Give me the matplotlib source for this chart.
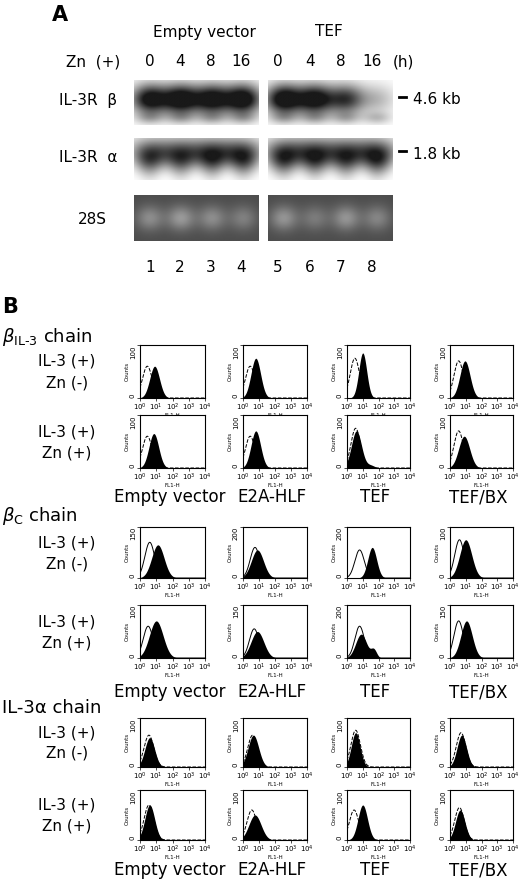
import numpy as np
import matplotlib
matplotlib.use("Agg")
import matplotlib.pyplot as plt

W, H = 520, 880

# ---- panel A data ----
lane_numbers = ["1", "2", "3", "4", "5", "6", "7", "8"]
hours = ["0", "4", "8", "16", "0", "4", "8", "16"]
beta_intensity = [0.85, 0.9, 0.85, 0.92, 0.92, 0.85, 0.65, 0.22]
alpha_intensity = [0.75, 0.75, 0.82, 0.82, 0.82, 0.82, 0.78, 0.85]
rrna_intensity = [0.25, 0.3, 0.25, 0.2, 0.28, 0.18, 0.28, 0.22]

# ---- panel B data ----
columns = ["Empty vector", "E2A-HLF", "TEF", "TEF/BX"]
sections = ["beta_il3", "beta_c", "il3a"]
ymax = {
    "beta_il3": [[100, 100, 100, 100], [100, 100, 100, 100]],
    "beta_c": [[150, 200, 200, 100], [100, 150, 200, 150]],
    "il3a": [[100, 100, 100, 100], [100, 100, 100, 100]],
}
# filled peak: (log centre, height fraction, width); optional shoulder
filled = {
    "beta_il3": [[(0.9, 0.6, 0.3), (0.8, 0.75, 0.3), (1.0, 0.85, 0.25), (0.95, 0.7, 0.32)],
                 [(0.85, 0.65, 0.3), (0.8, 0.7, 0.3), (0.6, 0.7, 0.32), (0.9, 0.6, 0.35)]],
    "beta_c": [[(1.1, 0.65, 0.38), (0.9, 0.55, 0.38), (1.6, 0.6, 0.28), (1.0, 0.75, 0.38)],
               [(1.0, 0.7, 0.42), (0.9, 0.5, 0.4), (0.9, 0.45, 0.35), (1.05, 0.7, 0.36)]],
    "il3a": [[(0.6, 0.6, 0.3), (0.65, 0.65, 0.33), (0.55, 0.7, 0.28), (0.75, 0.65, 0.3)],
             [(0.6, 0.7, 0.3), (0.75, 0.5, 0.38), (1.0, 0.7, 0.3), (0.65, 0.6, 0.3)]],
}
shoulder = {("beta_c", 1, 2): (1.7, 0.15, 0.18), ("beta_il3", 1, 2): (1.5, 0.05, 0.25)}
control = {
    "beta_il3": [[(0.45, 0.6), (0.45, 0.6), (0.5, 0.75), (0.55, 0.7)],
                 [(0.45, 0.6), (0.45, 0.6), (0.55, 0.75), (0.55, 0.7)]],
    "beta_c": [[(0.6, 0.7), (0.75, 0.6), (0.8, 0.55), (0.6, 0.75)],
               [(0.5, 0.6), (0.7, 0.55), (0.8, 0.6), (0.55, 0.7)]],
    "il3a": [[(0.55, 0.65), (0.6, 0.65), (0.55, 0.75), (0.7, 0.7)],
             [(0.55, 0.7), (0.55, 0.6), (0.45, 0.6), (0.6, 0.65)]],
}
control_style = {"beta_il3": "--", "beta_c": "-", "il3a": "--"}

fig = plt.figure(figsize=(W / 100, H / 100), dpi=100)
fig.patch.set_facecolor("white")


def rect(x0, y0, x1, y1):
    return [x0 / W, 1 - y1 / H, (x1 - x0) / W, (y1 - y0) / H]


def ftext(x, y, s, **kw):
    kw.setdefault("fontsize", 11)
    kw.setdefault("ha", "center")
    kw.setdefault("va", "center")
    fig.text(x / W, 1 - y / H, s, **kw)


# ---------------- panel A ----------------
ftext(60, 15, "A", fontsize=15, fontweight="bold")
ftext(204, 32, "Empty vector")
ftext(329, 32, "TEF")
ftext(93, 62, "Zn  (+)")
lane_x = [150, 180, 211, 241, 278, 310, 341, 372]
for lx, h_, n in zip(lane_x, hours, lane_numbers):
    ftext(lx, 62, h_)
    ftext(lx, 268, n)
ftext(403, 62, "(h)")
ftext(88, 100, "IL-3R  β")
ftext(88, 158, "IL-3R  α")
ftext(92, 220, "28S")
for y, lbl in ((100, "4.6 kb"), (154, "1.8 kb")):
    fig.add_artist(plt.Line2D([399 / W, 406 / W], [1 - (y - 3) / H] * 2, color="black", lw=2))
    ftext(413, y, lbl, ha="left")

yy = np.linspace(-1, 1, 60)[:, None]
xline = np.linspace(-1, 1, 400)[None, :]


def blot(ax, vals, kind):
    img = np.zeros((60, 400))
    for i, v in enumerate(vals):
        cx = xline * 2 - (i * 1.0 - 1.5)
        if kind == "beta":
            band = v * 1.3 * np.exp(-cx ** 2 / 0.35) * np.exp(-(yy + 0.15) ** 2 / 0.45)
            band += 0.25 * np.exp(-cx ** 2 / 0.2) * np.exp(-(yy - 0.7) ** 2 / 0.08)
        elif kind == "alpha":
            band = v * 1.2 * np.exp(-cx ** 2 / (0.12 + 0.18 * (1 - yy))) * np.exp(-(yy + 0.1) ** 2 / 0.6)
        else:
            band = v * np.exp(-cx ** 2 / 0.2) * np.exp(-yy ** 2 / 0.3)
        img += band
    if kind == "rrna":
        ax.imshow(0.3 + img, cmap="gray", vmin=0, vmax=1, aspect="auto")
    else:
        ax.imshow(1 - np.clip(img, 0, 1) * 0.9, cmap="gray", vmin=0, vmax=1, aspect="auto")
    ax.axis("off")


for (y0, y1), vals, kind in (((80, 125), beta_intensity, "beta"),
                             ((138, 180), alpha_intensity, "alpha"),
                             ((195, 241), rrna_intensity, "rrna")):
    blot(fig.add_axes(rect(134, y0, 259, y1)), vals[:4], kind)
    blot(fig.add_axes(rect(268, y0, 393, y1)), vals[4:], kind)

# ---------------- panel B ----------------
ftext(10, 307, "B", fontsize=15, fontweight="bold")
titles = {"beta_il3": (337, r"$\beta_{\mathrm{IL\text{-}3}}$ chain"),
          "beta_c": (516, r"$\beta_{\mathrm{C}}$ chain"),
          "il3a": (708, "IL-3α chain")}
row_y = {"beta_il3": [(345, 398), (415, 468)],
         "beta_c": [(527, 578), (605, 658)],
         "il3a": [(718, 767), (790, 840)]}
label_y = {"beta_il3": 497, "beta_c": 692, "il3a": 870}
col_x = [(140, 205), (243, 307), (347, 410), (450, 513)]
zn = ["Zn (-)", "Zn (+)"]
xs = np.linspace(0, 4, 300)

for sec in sections:
    ty, tt = titles[sec]
    ftext(2, ty, tt, ha="left", fontsize=13)
    for r, (y0, y1) in enumerate(row_y[sec]):
        yc = (y0 + y1) / 2
        ftext(67, yc - 10, "IL-3 (+)")
        ftext(67, yc + 11, zn[r])
        for c, (x0, x1) in enumerate(col_x):
            ax = fig.add_axes(rect(x0, y0, x1, y1))
            m = ymax[sec][r][c]
            fc, fh, fw = filled[sec][r][c]
            yv = fh * m * np.exp(-(xs - fc) ** 2 / (2 * fw ** 2))
            if (sec, r, c) in shoulder:
                sc, sh, sw = shoulder[(sec, r, c)]
                yv += sh * m * np.exp(-(xs - sc) ** 2 / (2 * sw ** 2))
            cc, ch = control[sec][r][c]
            cv = ch * m * np.exp(-(xs - cc) ** 2 / (2 * 0.3 ** 2))
            ax.fill_between(xs, 0, yv, color="black", lw=0)
            ax.plot(xs, cv, color="black", lw=0.7, ls=control_style[sec])
            ax.set_xlim(0, 4)
            ax.set_ylim(0, m)
            ax.set_xticks(range(5))
            ax.set_xticklabels([f"$10^{i}$" for i in range(5)], fontsize=5)
            ax.set_yticks([0, m])
            labs = ax.set_yticklabels(["0", str(m)], fontsize=5, rotation=90)
            labs[0].set_va("bottom")
            labs[1].set_va("top")
            ax.set_xlabel("FL1-H", fontsize=4, labelpad=0)
            ax.set_ylabel("Counts", fontsize=4, labelpad=0)
            ax.tick_params(length=2, width=0.5, pad=1)
            for s in ax.spines.values():
                s.set_linewidth(0.8)
    for (x0, x1), name in zip(col_x, columns):
        ftext((x0 + x1) / 2 - 3, label_y[sec], name, fontsize=12)

fig.savefig("out.png", dpi=100)
